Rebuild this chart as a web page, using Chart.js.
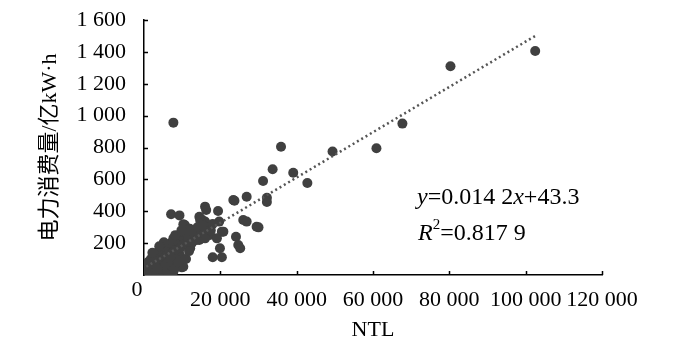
<!DOCTYPE html>
<html>
<head>
<meta charset="utf-8">
<script src="https://cdn.jsdelivr.net/npm/chart.js@4/dist/chart.umd.min.js"></script>
<style>
  html, body { margin: 0; padding: 0; background: #fff; }
  #wrap { width: 700px; height: 349px; }
</style>
</head>
<body>
<div id="wrap"><canvas id="ntlChart" width="700" height="349"></canvas></div>
<script>
// valeurs
const ntlValues = [
  102500, 80300, 67700, 60900, 49400, 42800, 7700, 35900, 33700, 39100,
  31200, 32200, 32200, 26900, 23700, 16000, 16300, 19400, 7100, 9300,
  14500, 26000, 15100, 19700, 26900, 10300, 17000, 30000, 20400, 15100,
  13800, 17300, 24100, 24700, 25200, 19900, 18000, 20400, 9900, 10700,
  14700, 7700, 5500, 3800, 2400, 1100, 10300, 7700, 4200, 12100,
  9400, 8600, 12900, 16400, 13800, 19100, 23400, 29500, 16000, 20800,
  600, 1000, 1500, 2000, 2500, 3000, 3000, 3500, 4000, 4500,
  5000, 5000, 5500, 6000, 6000, 6500, 6500, 7000, 7000, 7500,
  8000, 8000, 8500, 9000, 9000, 9500, 10000, 10500, 11000, 11000,
  11500, 12000, 12500, 13000, 14000, 14500, 15500, 16000, 17500, 18000,
  5200, 4000, 3500, 1800, 2200, 6800, 8200, 9800, 11800, 13800
];
const elecValues = [
  1405, 1310, 950, 795, 775, 577, 956, 805, 663, 642,
  590, 485, 458, 491, 466, 429, 408, 402, 381, 374,
  366, 345, 349, 335, 335, 318, 303, 299, 272, 272,
  251, 251, 240, 188, 168, 168, 111, 111, 48, 314,
  345, 230, 178, 146, 105, 52, 52, 21, 21, 168,
  125, 188, 230, 272, 272, 230, 471, 303, 335, 272,
  30, 80, 20, 60, 40, 90, 15, 120, 70, 40,
  100, 150, 60, 130, 25, 90, 170, 200, 60, 140,
  110, 40, 160, 80, 210, 170, 240, 200, 100, 260,
  220, 290, 200, 260, 300, 220, 310, 230, 280, 320,
  205, 180, 40, 100, 140, 115, 250, 280, 150, 220
];
// ligne de tendance (extrémités)
const trendX = [600, 102500];
const trendY = [52, 1500];
const xTicks = [0, 20000, 40000, 60000, 80000, 100000, 120000];
const yTicks = [0, 200, 400, 600, 800, 1000, 1200, 1400, 1600];
const xTitle = 'NTL';
const yTitle = '电力消费量/亿kW·h';

const serif = '"Liberation Serif", "Times New Roman", "Noto Sans CJK SC", serif';

function fmt(v) {
  return String(v).replace(/\B(?=(\d{3})+(?!\d))/g, ' ');
}

const points = ntlValues.map((x, i) => ({ x: x, y: elecValues[i] }));
const trend = trendX.map((x, i) => ({ x: x, y: trendY[i] }));

// ticks vers l'intérieur, le "0" du coin et l'équation
const extras = {
  id: 'extras',
  afterDraw(chart) {
    const ctx = chart.ctx;
    const xs = chart.scales.x;
    const ys = chart.scales.y;
    ctx.save();
    ctx.strokeStyle = '#000';
    ctx.lineWidth = 1.5;
    ctx.beginPath();
    xTicks.forEach(v => {
      if (v === 0) return;
      const px = Math.round(xs.getPixelForValue(v)) + 0.5;
      ctx.moveTo(px, ys.bottom);
      ctx.lineTo(px, ys.bottom - 4);
    });
    yTicks.forEach(v => {
      if (v === 0) return;
      const py = Math.round(ys.getPixelForValue(v)) + 0.5;
      ctx.moveTo(xs.left, py);
      ctx.lineTo(xs.left + 4, py);
    });
    ctx.stroke();

    ctx.fillStyle = '#000';
    ctx.font = '22px ' + serif;
    ctx.textAlign = 'center';
    ctx.textBaseline = 'middle';
    ctx.fillText('0', xs.left - 7, ys.bottom + 15);

    // équation
    ctx.textAlign = 'left';
    let x = chart.chartArea.left + 273;
    let y = chart.chartArea.top + 178;
    const parts = [
      ['italic ', 'y'], ['', '=0.014 2'], ['italic ', 'x'], ['', '+43.3']
    ];
    parts.forEach(p => {
      ctx.font = p[0] + '24px ' + serif;
      ctx.fillText(p[1], x, y);
      x += ctx.measureText(p[1]).width;
    });
    x = chart.chartArea.left + 274;
    y = chart.chartArea.top + 214;
    ctx.font = 'italic 24px ' + serif;
    ctx.fillText('R', x, y);
    x += ctx.measureText('R').width;
    ctx.font = '15px ' + serif;
    ctx.fillText('2', x, y - 9);
    x += ctx.measureText('2').width;
    ctx.font = '24px ' + serif;
    ctx.fillText('=0.817 9', x, y);
    ctx.restore();
  }
};

new Chart(document.getElementById('ntlChart'), {
  type: 'scatter',
  data: {
    datasets: [{
      label: 'tendance',
      data: trend,
      showLine: true,
      borderColor: '#555555',
      borderWidth: 2.5,
      borderDash: [2, 3],
      pointRadius: 0,
      order: 0
    }, {
      label: 'villes',
      data: points,
      backgroundColor: '#404040',
      borderColor: '#404040',
      pointRadius: 5,
      borderWidth: 0,
      order: 1
    }]
  },
  options: {
    responsive: false,
    animation: false,
    layout: { padding: { left: 0, right: 98, top: 20, bottom: 0 } },
    plugins: { legend: { display: false }, tooltip: { enabled: false } },
    scales: {
      x: {
        type: 'linear',
        min: 0,
        max: 120000,
        afterFit: (s) => { s.height = 74; s.paddingLeft = 0; s.paddingRight = 0; },
        afterBuildTicks: (s) => { s.ticks = xTicks.map(v => ({ value: v })); },
        grid: { display: false, drawTicks: false },
        border: { display: true, color: '#000', width: 1.5 },
        ticks: {
          color: '#000',
          padding: 12,
          maxRotation: 0,
          font: { family: serif, size: 22 },
          callback: (v) => v === 0 ? '' : fmt(v)
        },
        title: {
          display: true,
          text: xTitle,
          color: '#000',
          font: { family: serif, size: 22 },
          padding: { top: 0, bottom: 6 }
        }
      },
      y: {
        min: 0,
        max: 1600,
        afterFit: (s) => { s.width = 144; s.paddingTop = 0; s.paddingBottom = 0; },
        afterBuildTicks: (s) => { s.ticks = yTicks.map(v => ({ value: v })); },
        grid: { display: false, drawTicks: false },
        border: { display: true, color: '#000', width: 1.5 },
        ticks: {
          color: '#000',
          padding: 18,
          font: { family: serif, size: 22 },
          callback: (v) => v === 0 ? '' : fmt(v)
        },
        title: {
          display: true,
          text: yTitle,
          color: '#000',
          font: { family: serif, size: 22 },
          padding: { top: 37, bottom: 0 }
        }
      }
    }
  },
  plugins: [extras]
});
</script>
</body>
</html>
